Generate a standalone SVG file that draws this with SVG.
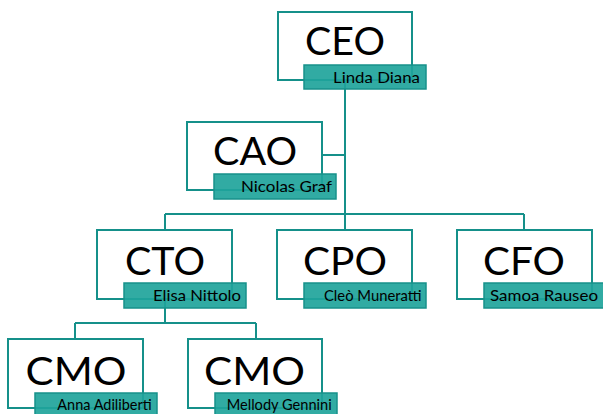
<svg xmlns="http://www.w3.org/2000/svg" width="603" height="414" viewBox="0 0 603 414">
<style>
.box{fill:#ffffff;stroke:#15908a;stroke-width:2}
.bar{fill:#20a49b;fill-opacity:0.92;stroke:#17918b;stroke-width:1.5}
.c{fill:none;stroke:#15908a;stroke-width:2}
.t{font-family:Lato,"Liberation Sans",sans-serif;font-size:39px;fill:#000;text-anchor:middle}
.n{font-family:Lato,"Liberation Sans",sans-serif;font-size:15px;fill:#000}
</style>
<rect width="603" height="414" fill="#ffffff"/>
<g id="connectors">
<path class="c" d="M345,80V230M322,155H345M165,214H524M165,214V230M524,214V230M165,299V323M75,323H256M75,323V339M256,323V339"/>
</g>
<g id="ceo">
<rect class="box" x="278" y="12" width="134" height="68"/>
<rect class="bar" x="304" y="65" width="122" height="24"/>
<text class="t" x="345" y="55" textLength="80" lengthAdjust="spacingAndGlyphs">CEO</text>
<text class="n" x="333" y="82.5" textLength="87" lengthAdjust="spacingAndGlyphs">Linda Diana</text>
</g>
<g id="cao">
<rect class="box" x="187" y="122" width="135" height="68"/>
<rect class="bar" x="214" y="174" width="122" height="25"/>
<text class="t" x="255" y="165" textLength="84" lengthAdjust="spacingAndGlyphs">CAO</text>
<text class="n" x="241" y="191.7" textLength="91" lengthAdjust="spacingAndGlyphs">Nicolas Graf</text>
</g>
<g id="cto">
<rect class="box" x="97" y="230" width="135" height="69"/>
<rect class="bar" x="124" y="283" width="122" height="25"/>
<text class="t" x="165" y="275" textLength="80" lengthAdjust="spacingAndGlyphs">CTO</text>
<text class="n" x="153" y="300.7" textLength="88" lengthAdjust="spacingAndGlyphs">Elisa Nittolo</text>
</g>
<g id="cpo">
<rect class="box" x="277" y="230" width="135" height="69"/>
<rect class="bar" x="304" y="283" width="122" height="25"/>
<text class="t" x="345" y="275" textLength="84" lengthAdjust="spacingAndGlyphs">CPO</text>
<text class="n" x="324" y="301" textLength="97.5" lengthAdjust="spacingAndGlyphs">Cleò Muneratti</text>
</g>
<g id="cfo">
<rect class="box" x="457" y="230" width="135" height="69"/>
<rect class="bar" x="484" y="283" width="122" height="25"/>
<text class="t" x="524" y="275" textLength="82" lengthAdjust="spacingAndGlyphs">CFO</text>
<text class="n" x="490" y="301" textLength="108" lengthAdjust="spacingAndGlyphs">Samoa Rauseo</text>
</g>
<g id="cmo1">
<rect class="box" x="8" y="339" width="135" height="69"/>
<rect class="bar" x="35" y="393" width="122" height="25"/>
<text class="t" x="76" y="385" textLength="101" lengthAdjust="spacingAndGlyphs">CMO</text>
<text class="n" x="57.3" y="410" textLength="94.4" lengthAdjust="spacingAndGlyphs">Anna Adiliberti</text>
</g>
<g id="cmo2">
<rect class="box" x="188" y="339" width="134" height="69"/>
<rect class="bar" x="215" y="393" width="122" height="25"/>
<text class="t" x="254.5" y="385" textLength="101" lengthAdjust="spacingAndGlyphs">CMO</text>
<text class="n" x="226.7" y="410" textLength="105" lengthAdjust="spacingAndGlyphs">Mellody Gennini</text>
</g>
</svg>
